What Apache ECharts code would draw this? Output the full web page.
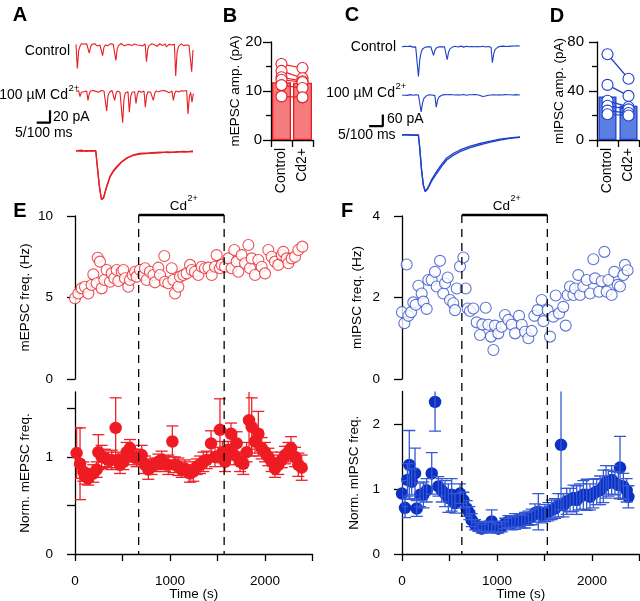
<!DOCTYPE html>
<html><head><meta charset="utf-8">
<script src="https://cdn.jsdelivr.net/npm/echarts@6/dist/echarts.min.js"></script>
<style>html,body{margin:0;padding:0;background:#fff}#c{width:640px;height:601px}</style>
</head><body><div id="c"></div>
<script>
// ---------------- DATA ----------------
// Panel A raw traces (pA), one sample every 10 ms
const dtA = 10;
const ctrlA = [1,-38,-9,-2,2,0,1.5,-1,2,0,-13,-3,1,-1,2,0.5,-1.5,1,0,2,-17,-4,0,1.5,-1,0,2,-0.5,1,-1,-25,-6,-1,1,2.5,0,-1,1,0,-2,1,2,-1,0.5,1.5,-1,0,2,-0.5,1,-1.5,0.5,1.5,-27,-6,-1,1,2,-1,0.5,1,-2,0,2,1,-1,0,1.5,-3,-0.5,1,2,0,-1,1,-50,-12,-3,0,2,0.5,-1,1.5,0,2,-0.5,1,-43,-8];
const cdA = [1,-1,1.5,-8,-1,2,0,-1,1,-14,-3,1,0,2,-1,0.5,1.5,-1,0,2,-0.5,1,-1,-31,-7,-1,1,2,0,-14,-3,1,2,-1,0.5,-50,-12,-2,1,0,-33,-8,-1,1.5,0,-19,-4,1,2,-1,0,1,-25,-6,0,1.5,-1,1,-14,-3,1,2,0,-1,1.5,0,2,-1,0.5,1,-1.5,0,1,-14,-3,1,2,-0.5,0,1.5,-1,1,0,2,-36,-8,-1,-17,-3];
// Panel A averaged events [ms, pA]
const avgACtrl = [[0,0],[2,0.2],[4,-0.1],[6,0.1],[7.6,0],[8.2,-4],[9,-9],[9.8,-12.2],[10.6,-11.8],[11.8,-9],[13.1,-6.5],[14.5,-5],[15.8,-4],[17.5,-2.8],[19.6,-1.8],[22,-1.1],[24.6,-0.75],[28,-0.6],[32.3,-0.45],[35,-0.2],[38,-0.35],[41,-0.1],[45,-0.2]];
const avgACd = [[0,0.1],[2,-0.1],[4,0.1],[6,0],[7.6,0.1],[8.2,-3.8],[9,-8.8],[9.8,-12],[10.6,-11.6],[11.8,-8.8],[13.1,-6.3],[14.5,-4.8],[15.8,-3.8],[17.5,-2.7],[19.6,-1.7],[22,-1.0],[24.6,-0.6],[28,-0.5],[32.3,-0.3],[36,-0.4],[39,-0.15],[42,-0.3],[45,0]];
const scaleA = [[-295,-50],[-195,-50],[-195,-30]]; // 100 ms x 20 pA

// Panel C raw traces (pA), one sample every 10 ms
const dtC = 10;
const ctrlC = [0,-3,2,-2,1,-1,3,0,-2,1,-1,-5,-153,-65,-28,-12,-5,-2,1,-1,2,0,-2,-44,-18,-7,-3,0,2,-1,1,0,-2,-66,-28,-11,-5,-1,1,2,0,-1,1,3,0,-2,1,2,-1,0,2,1,-1,0,3,1,-2,0,1,2,0,-1,2,1,0,-3,-82,-35,-14,-6,-2,1,2,0,3,2,1,3,2,4,3,2,4,3,5,8,4];
const cdC = [0,2,-1,1,-2,0,2,1,-1,0,1,-2,0,-3,-87,-40,-17,-7,-3,0,1,2,0,-1,-3,-62,-26,-10,-4,-1,1,2,0,1,-1,2,0,1,2,0,-1,1,2,0,1,3,0,-1,2,1,0,1,-1,2,0,1,0,-3,-6,-8,-7,-5,-3,-1,1,0,2,1,-1,0,2,1,3,0,1,2,0,1,3,1,2,0,1,2,1,0,2];
const avgCCtrl = [[0,0],[3,0.3],[5,-0.2],[6.3,0],[6.8,-8],[7.5,-22],[8.2,-32],[8.9,-36],[9.8,-34.5],[11.5,-29],[13.4,-24.3],[15.3,-19.8],[17.2,-15.9],[19.8,-12.8],[22.3,-10.6],[26,-8.2],[30,-6.3],[34,-4.6],[37.7,-3.2],[41.5,-2.2],[45.4,-1.5]];
const avgCCd = [[0,0.2],[3,0],[5,0.1],[6.3,0],[6.8,-7.5],[7.5,-21.5],[8.2,-31.5],[8.9,-35.6],[9.8,-34],[11.5,-28],[13.4,-23],[15.3,-18.5],[17.2,-14.6],[19.8,-11.6],[22.3,-9.5],[26,-7.2],[30,-5.4],[34,-3.9],[37.7,-2.6],[41.5,-1.8],[45.4,-1.2]];
const scaleC = [[-240,-160],[-140,-160],[-140,-100]]; // 100 ms x 60 pA

// Panels B and D
const groups = ['Control', 'Cd2+'];
const bBar = [11.8, 11.7];
const bCtrl = [15.5, 14.1, 12.8, 12.3, 11.2, 8.9];
const bCd = [14.7, 12.6, 12.0, 11.8, 10.6, 8.7];
const dBar = [35.6, 28.0];
const dCtrl = [70, 45, 32, 28, 24, 21];
const dCd = [50, 36, 27, 25, 22, 20];

// Panel E
const cdE = [670, 1570];
const eTopT = [0,35,70,105,140,175,193,228,239,263,281,309,333,368,386,414,439,456,491,509,526,561,579,607,632,649,684,719,737,754,789,825,842,877,895,940,947,982,1018,1035,1053,1088,1105,1140,1175,1211,1228,1263,1298,1333,1368,1404,1439,1474,1491,1526,1544,1579,1614,1649,1677,1702,1719,1754,1790,1825,1842,1860,1895,1930,1965,2000,2035,2070,2105,2140,2176,2193,2228,2246,2281,2316,2351,2393];
const eTopV = [4.95,5.25,5.56,5.66,5.25,5.77,6.42,5.87,7.44,7.2,5.56,6.07,6.69,5.97,6.48,6.18,6.69,6.01,6.58,6.69,6.18,5.66,6.07,6.38,6.58,6.28,6.69,6.38,6.79,6.07,6.58,6.38,5.93,6.83,6.38,7.55,5.97,5.87,6.79,6.07,5.25,5.66,6.28,6.38,6.48,7.0,6.69,6.58,6.38,6.89,6.79,6.83,6.38,6.89,7.6,6.79,7.0,6.89,7.4,6.79,7.91,7.2,6.58,7.6,7.1,8.22,6.79,7.4,6.38,7.3,6.89,6.48,7.91,7.5,7.2,7.0,7.6,7.8,7.4,7.1,7.4,7.5,7.91,8.12];
const eBotT = [17,53,88,105,140,193,228,246,281,316,351,386,428,456,474,509,544,579,614,649,702,737,772,807,842,877,912,947,982,1025,1053,1088,1123,1158,1210,1246,1281,1316,1351,1386,1432,1474,1526,1551,1579,1614,1642,1677,1702,1737,1772,1807,1832,1860,1895,1930,1965,2000,2035,2070,2105,2140,2176,2211,2246,2274,2316,2351,2386];
const eBotV = [1.04,0.93,0.85,0.80,0.78,0.83,0.87,1.05,1.00,0.99,0.97,0.97,1.30,0.97,0.92,0.95,1.05,1.09,1.00,0.99,1.02,0.92,0.87,0.90,0.92,0.95,0.97,0.93,0.92,1.16,0.92,0.90,0.87,0.88,0.83,0.85,0.90,0.92,0.95,0.97,1.14,1.00,1.28,1.05,0.95,1.07,1.24,1.02,1.14,0.95,0.93,1.05,1.38,1.31,1.16,1.24,1.09,1.05,1.00,0.95,0.88,0.92,0.97,1.02,1.05,1.09,1.00,0.92,0.89];
const eBotErr = [0.26,0.37,0.1,0.08,0.07,0.09,0.08,0.18,0.12,0.09,0.08,0.1,0.31,0.08,0.09,0.08,0.1,0.09,0.08,0.09,0.1,0.09,0.1,0.08,0.07,0.08,0.09,0.08,0.1,0.16,0.08,0.09,0.08,0.09,0.09,0.1,0.08,0.09,0.1,0.09,0.13,0.1,0.32,0.11,0.1,0.09,0.11,0.1,0.12,0.1,0.11,0.1,0.3,0.3,0.12,0.23,0.11,0.1,0.09,0.1,0.09,0.1,0.08,0.09,0.1,0.12,0.1,0.12,0.13];

// Panel F
const cdF = [630, 1530];
const fTopT = [0,25,49,67,95,119,144,172,207,225,260,277,312,347,365,400,435,453,481,505,540,558,576,611,646,670,691,716,751,786,821,846,881,909,937,962,979,1014,1049,1084,1119,1154,1190,1232,1260,1295,1330,1365,1393,1428,1470,1488,1533,1558,1593,1618,1653,1698,1723,1744,1768,1804,1821,1856,1874,1909,1944,1979,2014,2032,2074,2102,2130,2154,2172,2207,2235,2270,2295,2330,2347,2375];
const fTopV = [1.64,1.37,2.81,1.55,1.64,1.88,1.82,2.29,2.10,1.90,1.72,2.43,2.43,2.63,2.27,2.90,2.10,2.35,2.49,1.94,1.86,1.69,2.22,2.76,2.98,2.22,1.73,1.67,1.73,1.39,1.08,1.34,1.75,1.33,1.04,0.71,1.31,1.12,1.28,1.57,1.45,1.33,1.12,1.55,1.33,1.16,1.0,1.18,1.55,1.69,1.94,1.42,1.69,1.04,1.53,2.05,1.61,1.77,1.31,2.06,2.27,2.06,2.22,2.55,2.06,2.27,2.43,2.10,2.94,2.47,2.14,2.40,3.12,2.14,2.43,2.06,2.63,2.31,2.27,2.55,2.80,2.67];
const fBotT = [0,32,57,77,102,137,155,190,225,260,313,348,383,418,453,488,523,558,611,646,681,709,734,769,804,839,874,909,944,979,1014,1050,1085,1120,1155,1190,1225,1260,1295,1330,1365,1400,1435,1470,1505,1540,1576,1611,1646,1674,1699,1734,1769,1804,1839,1874,1909,1944,1979,2014,2050,2085,2120,2148,2172,2207,2242,2277,2295,2330,2365,2383];
const fBotV = [0.93,0.71,1.14,1.37,1.11,1.24,0.70,0.91,0.91,0.98,1.24,2.34,1.04,0.98,0.93,0.86,0.91,0.78,0.93,0.83,0.70,0.63,0.52,0.45,0.42,0.39,0.42,0.42,0.50,0.42,0.39,0.42,0.47,0.50,0.47,0.50,0.52,0.50,0.52,0.55,0.57,0.63,0.65,0.60,0.63,0.65,0.68,0.70,0.75,1.68,0.75,0.81,0.83,0.86,0.83,0.88,0.91,0.91,0.88,0.93,0.96,0.98,1.04,1.11,1.09,1.14,1.09,1.06,1.33,1.04,0.98,0.88];
const fBotErr = [0.2,0.15,0.25,0.53,0.2,0.39,0.12,0.18,0.2,0.18,0.32,0.45,0.15,0.18,0.2,0.22,0.25,0.15,0.15,0.12,0.12,0.1,0.1,0.08,0.07,0.07,0.08,0.07,0.18,0.08,0.07,0.08,0.08,0.09,0.1,0.12,0.1,0.1,0.12,0.11,0.12,0.14,0.28,0.12,0.13,0.14,0.15,0.15,0.18,1.0,0.18,0.2,0.18,0.2,0.22,0.2,0.22,0.24,0.2,0.22,0.2,0.22,0.25,0.25,0.2,0.22,0.18,0.2,0.48,0.2,0.18,0.17];

// ---------------- STYLE ----------------
const FONT = 'Liberation Sans, Arial, Helvetica, sans-serif';
const RED = '#e91c24', RED_FILL = '#f47c7c';
const BLUE = '#1d3fcb', BLUE_DOT = '#0b31c4', BLUE_ERR = '#3458d4', BLUE_FILL = '#5a7ee2';
const BLK = '#000';

const grids = [
  {left:76, top:40.04, width:117, height:37.2},      // 0 A control trace
  {left:36, top:86.74, width:157.33, height:39.06},  // 1 A Cd trace + scale bar
  {left:76, top:147, width:117, height:56},          // 2 A averages
  {left:271, top:42, width:42, height:98},           // 3 B
  {left:402, top:43.8, width:117.8, height:35.1},    // 4 C control trace
  {left:367.75, top:92.08, width:152.05, height:36.08}, // 5 C Cd trace + scale bar
  {left:402, top:131.85, width:118, height:61.4},    // 6 C averages
  {left:597, top:42, width:42, height:98},           // 7 D
  {left:75, top:216, width:237.5, height:163},       // 8 E top
  {left:75, top:392, width:237.5, height:162},       // 9 E bottom
  {left:75, top:215, width:237.5, height:340},       // 10 E overlay
  {left:402, top:216, width:237.5, height:163},      // 11 F top
  {left:402, top:391.5, width:237.5, height:162.5},  // 12 F bottom
  {left:402, top:215, width:237.5, height:340}       // 13 F overlay
].map(g => Object.assign({containLabel:false, outerBoundsMode:'none', show:false}, g));

const xAxes = [], yAxes = [];
function hidden(i, xr, yr) {
  xAxes[i] = {type:'value', gridIndex:i, min:xr[0], max:xr[1], show:false};
  yAxes[i] = {type:'value', gridIndex:i, min:yr[0], max:yr[1], show:false};
}
const line = {show:true, lineStyle:{color:BLK, width:1.3}};
const plain = v => String(v);
const lbl = (size, margin, extra) => Object.assign({color:BLK, fontFamily:FONT, fontSize:size, margin:margin}, extra||{});
const nameStyle = size => ({color:BLK, fontFamily:FONT, fontSize:size});

hidden(0, [0, 880], [-52, 8]);
hidden(1, [-300, 880], [-55, 8]);
hidden(2, [0, 45], [-13, 1]);
hidden(4, [0, 860], [-165, 15]);
hidden(5, [-250, 860], [-170, 15]);
hidden(6, [0, 45.4], [-37, 2]);
hidden(10, [0, 2500], [0, 1]);
hidden(13, [0, 2500], [0, 1]);

function barAxes(i, ymax, name, margin, gap) {
  xAxes[i] = {type:'category', gridIndex:i, data:groups, offset:3, boundaryGap:true,
    axisLine:line, axisTick:{show:true, length:7, alignWithLabel:false, lineStyle:{color:BLK, width:1.3}},
    axisLabel:lbl(14, 5, {rotate:90, interval:0}), splitLine:{show:false}};
  yAxes[i] = {type:'value', gridIndex:i, min:0, max:ymax, interval:ymax/2,
    axisLine:line, axisTick:{show:true, length:8, lineStyle:{color:BLK, width:1.3}},
    minorTick:{show:true, splitNumber:2, length:5, lineStyle:{color:BLK, width:1.3}},
    splitLine:{show:false}, minorSplitLine:{show:false},
    axisLabel:lbl(15, margin, {formatter:plain}), name:name, nameLocation:'middle', nameGap:gap,
    nameMoveOverlap:false, nameTextStyle:nameStyle(13.5)};
}
barAxes(3, 20, 'mEPSC amp. (pA)', 9, 29);
barAxes(7, 80, 'mIPSC amp. (pA)', 13, 31);

function timeYAxis(i, ymax, interval, ticks, labels, name, gap) {
  yAxes[i] = {type:'value', gridIndex:i, min:0, max:ymax, interval:interval, offset:6,
    axisLine:line, axisTick:{show:true, length:8, lineStyle:{color:BLK, width:1.3}, customValues:ticks},
    splitLine:{show:false}, axisLabel:lbl(13.5, 16, {customValues:labels, formatter:plain}),
    name:name, nameLocation:'middle', nameGap:gap, nameMoveOverlap:false, nameTextStyle:nameStyle(13.5)};
}
function timeXAxis(i, showAxis) {
  if (!showAxis) { xAxes[i] = {type:'value', gridIndex:i, min:0, max:2500, show:false}; return; }
  xAxes[i] = {type:'value', gridIndex:i, min:0, max:2500, interval:500,
    axisLine:line, axisTick:{show:true, length:7, lineStyle:{color:BLK, width:1.3}},
    splitLine:{show:false}, axisLabel:lbl(13.5, 20, {customValues:[0,1000,2000], formatter:plain}),
    name:'Time (s)', nameLocation:'middle', nameGap:33, nameMoveOverlap:false, nameTextStyle:nameStyle(13.5)};
}
timeXAxis(8, false); timeYAxis(8, 10, 5, [0,5,10], [0,5,10], 'mEPSC freq. (Hz)', 37);
timeXAxis(9, true);  timeYAxis(9, 1.67, 0.5, [0,0.5,1,1.5], [0,1], 'Norm. mEPSC freq.', 37);
timeXAxis(11, false); timeYAxis(11, 4, 2, [0,2,4], [0,2,4], 'mIPSC freq. (Hz)', 32);
timeXAxis(12, true);  timeYAxis(12, 2.5, 0.5, [0,1,2], [0,1,2], 'Norm. mIPSC freq.', 35);

// ---------------- SERIES ----------------
const series = [];
const trace = (arr, dt) => arr.map((v, i) => [i * dt, v]);
function lineS(idx, data, color, width) {
  series.push({type:'line', xAxisIndex:idx, yAxisIndex:idx, data:data, symbol:'none',
    lineStyle:{color:color, width:width}, silent:true});
}
lineS(0, trace(ctrlA, dtA), RED, 1.1);
lineS(1, trace(cdA, dtA), RED, 1.1);
lineS(1, scaleA, BLK, 2.2);
lineS(2, avgACtrl, RED, 1.3);
lineS(2, avgACd, RED, 1.3);
lineS(4, trace(ctrlC, dtC), BLUE, 1.1);
lineS(5, trace(cdC, dtC), BLUE, 1.1);
lineS(5, scaleC, BLK, 2.2);
lineS(6, avgCCtrl, BLUE, 1.3);
lineS(6, avgCCd, BLUE, 1.3);

function barPanel(idx, bars, c, d, stroke, fill, barW) {
  series.push({type:'bar', xAxisIndex:idx, yAxisIndex:idx, data:bars, barWidth:barW,
    itemStyle:{color:fill, borderColor:stroke, borderWidth:1.3}});
  c.forEach((v, k) => series.push({type:'line', xAxisIndex:idx, yAxisIndex:idx, data:[[0, v], [1, d[k]]],
    symbol:'circle', symbolSize:11, lineStyle:{color:stroke, width:1.2},
    itemStyle:{color:'#fff', borderColor:stroke, borderWidth:1.1}, z:3}));
}
barPanel(3, bBar, bCtrl, bCd, RED, RED_FILL, 19);
barPanel(7, dBar, dCtrl, dCd, BLUE, BLUE_FILL, 18);

function hollow(idx, t, v, color) {
  series.push({type:'scatter', xAxisIndex:idx, yAxisIndex:idx, data:t.map((x, i) => [x, v[i]]),
    symbol:'circle', symbolSize:11, itemStyle:{color:'#fff', borderColor:color, borderWidth:1.1}});
}
hollow(8, eTopT, eTopV, '#e8262c');
hollow(11, fTopT, fTopV, '#3252c9');

function errRender(color) {
  return function (params, api) {
    const x = api.value(0), y = api.value(1), e = api.value(2);
    const t = api.coord([x, y + e]), b = api.coord([x, y - e]);
    const st = {stroke:color, lineWidth:1.3};
    return {type:'group', children:[
      {type:'line', shape:{x1:t[0], y1:t[1], x2:b[0], y2:b[1]}, style:st},
      {type:'line', shape:{x1:t[0]-6, y1:t[1], x2:t[0]+6, y2:t[1]}, style:st},
      {type:'line', shape:{x1:b[0]-6, y1:b[1], x2:b[0]+6, y2:b[1]}, style:st}]};
  };
}
function filled(idx, t, v, err, color, errColor, errOnTop) {
  series.push({type:'custom', xAxisIndex:idx, yAxisIndex:idx, clip:true,
    data:t.map((x, i) => [x, v[i], err[i]]), encode:{x:0, y:1},
    renderItem:errRender(errColor), z: errOnTop ? 4 : 1});
  series.push({type:'scatter', xAxisIndex:idx, yAxisIndex:idx, data:t.map((x, i) => [x, v[i]]),
    symbol:'circle', symbolSize:12.5, itemStyle:{color:color, opacity:1}, z:2});
}
filled(9, eBotT, eBotV, eBotErr, '#ee1c22', '#ec2228', false);
filled(12, fBotT, fBotV, fBotErr, BLUE_DOT, BLUE_ERR, true);

function bracket(idx, range) {
  series.push({type:'custom', xAxisIndex:idx, yAxisIndex:idx, z:10, clip:false,
    data:[[range[0], range[1], 1]], encode:{x:[0, 1], y:2},
    renderItem:function (params, api) {
      const a = api.coord([api.value(0), 1]), b = api.coord([api.value(1), 1]);
      const a0 = api.coord([api.value(0), 0]), b0 = api.coord([api.value(1), 0]);
      const dash = {stroke:BLK, lineWidth:1.3, lineDash:[8, 6]};
      return {type:'group', children:[
        {type:'line', shape:{x1:a[0], y1:a[1], x2:a0[0], y2:a0[1]}, style:dash},
        {type:'line', shape:{x1:b[0], y1:b[1], x2:b0[0], y2:b0[1]}, style:dash},
        {type:'line', shape:{x1:a[0], y1:a[1], x2:b[0], y2:b[1]}, style:{stroke:BLK, lineWidth:2.5}}]};
    }});
}
bracket(10, cdE);
bracket(13, cdF);

// ---------------- TEXT ----------------
function txt(x, y, s, size, align, bold) {
  return {type:'text', x:x, y:y, silent:true, z:20, style:{text:s, fill:BLK,
    font:(bold ? 'bold ' : '') + size + 'px ' + FONT, align:align, verticalAlign:'middle'}};
}
const graphic = [
  txt(20, 15, 'A', 20, 'center', true), txt(230, 16, 'B', 20, 'center', true),
  txt(352, 15, 'C', 20, 'center', true), txt(557, 16, 'D', 20, 'center', true),
  txt(20, 211, 'E', 20, 'center', true), txt(347, 211, 'F', 20, 'center', true),
  txt(70, 51, 'Control', 14, 'right'),
  txt(68, 95, '100 \u00B5M Cd', 14, 'right'), txt(68.5, 88, '2+', 9.5, 'left'),
  txt(53, 117, '20 pA', 14, 'left'), txt(15, 133, '5/100 ms', 14, 'left'),
  txt(396, 47.5, 'Control', 14, 'right'),
  txt(395, 93, '100 \u00B5M Cd', 14, 'right'), txt(395.5, 86.5, '2+', 9.5, 'left'),
  txt(387, 118.7, '60 pA', 14, 'left'), txt(338, 135, '5/100 ms', 14, 'left'),
  txt(187, 206, 'Cd', 13.5, 'right'), txt(187.5, 199, '2+', 9, 'left'),
  txt(510, 206, 'Cd', 13.5, 'right'), txt(510.5, 199, '2+', 9, 'left')
];

const chart = echarts.init(document.getElementById('c'), null, {renderer:'canvas'});
chart.setOption({
  animation:false, backgroundColor:'#fff',
  textStyle:{fontFamily:FONT},
  grid:grids, xAxis:xAxes, yAxis:yAxes, series:series, graphic:graphic
});
</script></body></html>
